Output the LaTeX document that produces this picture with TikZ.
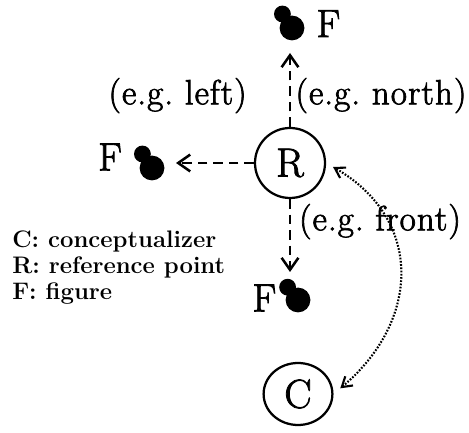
\documentclass[tikz,border=0pt]{standalone}
\usepackage{fontspec}
\usepackage{tikz}
\usetikzlibrary{arrows.meta, shapes.geometric, positioning, calc}
\newfontfamily\gruesa{Latin Modern Roman}[FakeBold=2, LetterSpace=3]
\frenchspacing

\begin{document}
\begin{tikzpicture}[
		punto/.style={circle, draw, line width=1.6pt, inner sep=0pt, minimum size=1.75cm,
			font=\gruesa\fontsize{29}{33}\selectfont},
		flecha/.style={line width=1.8pt, dash pattern=on 7pt off 4pt,
			-{Straight Barb[length=3mm, width=4.2mm]}},
		enlace/.style={line width=1.5pt, dash pattern=on 1.2pt off 1.1pt,
			{Straight Barb[length=2.4mm, width=3mm]}-{Straight Barb[length=2.4mm, width=3mm]},
			shorten <=2.2mm, shorten >=2mm},
		bigdot/.style={circle, fill, inner sep=0pt, minimum size=0.62cm},
		smalldot/.style={circle, fill, inner sep=0pt, minimum size=0.42cm},
		flabel/.style={font=\gruesa\fontsize{28}{32}\selectfont, inner sep=0pt},
		dirlabel/.style={font=\gruesa\fontsize{25}{29}\selectfont, inner sep=0pt},
		leyenda/.style={font=\fontsize{17}{20}\selectfont\bfseries, inner sep=0pt, anchor=base west}]
	\useasboundingbox (0,0) rectangle (11.725,10.8);

	% Punto de referencia y conceptualizador
	\node[punto] (R) at (7.25,6.725) {R};
	\node[punto, ellipse, minimum width=1.72cm, minimum height=1.55cm] (C) at (7.45,0.95) {C};

	% Figuras
	\node[bigdot] (dotN) at (7.3,10.1) {};
	\node[smalldot] (dotNs) at ($(dotN)+(-0.24,0.35)$) {};
	\node[flabel] (FN) at (8.21,10.21) {F};

	\node[bigdot] (dotW) at (3.8,6.6) {};
	\node[smalldot] (dotWs) at ($(dotW)+(-0.24,0.35)$) {};
	\node[flabel] (FW) at (2.75,6.875) {F};

	\node[bigdot] (dotS) at (7.45,3.3) {};
	\node[smalldot] (dotSs) at ($(dotS)+(-0.26,0.32)$) {};
	\node[flabel] (FS) at (6.61,3.35) {F};

	% Flechas
	\coordinate (tipN) at (7.25,9.475);
	\coordinate (tipW) at (4.4,6.725);
	\coordinate (tipS) at (7.25,4.0);
	\draw[flecha] (R.north) -- (tipN);
	\draw[flecha] (R.west) -- (tipW);
	\draw[flecha] (R.south) -- (tipS);
	\draw[enlace] (C.east) to[out=40, in=-30, looseness=1.25] (R.east);

	% Etiquetas
	\node[dirlabel] (eLeft) at (4.44,8.41) {(e.g. left)};
	\node[dirlabel] (eNorth) at (9.525,8.41) {(e.g. north)};
	\node[dirlabel] (eFront) at (9.5,5.26) {(e.g. front)};

	% Leyenda
	\node[leyenda] (legC) at (0.3,4.6) {C: conceptualizer};
	\node[leyenda] (legR) at (0.3,3.95) {R: reference point};
	\node[leyenda] (legF) at (0.3,3.3) {F: figure};
\end{tikzpicture}
\end{document}
